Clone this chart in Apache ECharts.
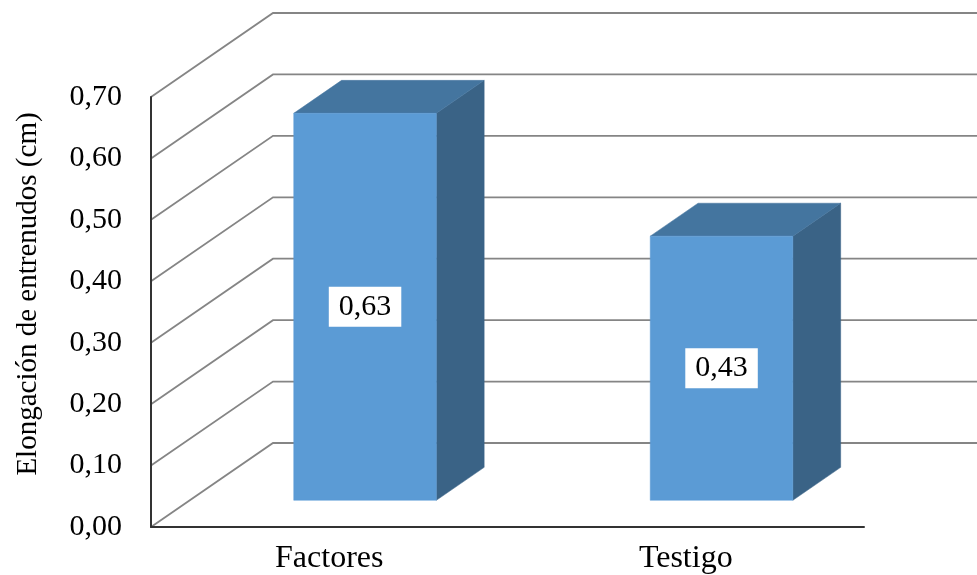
<!DOCTYPE html>
<html>
<head>
<meta charset="utf-8">
<script src="https://cdn.jsdelivr.net/npm/echarts@6/dist/echarts.min.js"></script>
<style>
  html, body { margin: 0; padding: 0; background: #fff; }
  #chart { width: 977px; height: 575px; }
</style>
</head>
<body>
<div id="chart"></div>
<script>
// Elongation of internodes per treatment
const categories = ['Factores', 'Testigo'];
const elongacion = [0.63, 0.43];
const yTicks = [0, 0.1, 0.2, 0.3, 0.4, 0.5, 0.6, 0.7];
const yTitle = 'Elongación de entrenudos (cm)';

// Oblique projection of the chart depth (back wall offset in px)
const DEPTH_X = 122;
const DEPTH_Y = -84;
const BAR_FRONT = 0.318;   // fraction of depth where bar front face sits
const BAR_BACK = 0.71;     // fraction of depth where bar back face sits
const BAR_WIDTH = 0.40;    // fraction of category band
const BAR_NUDGE = -3;      // small horizontal adjustment of the columns

const FONT = '"Liberation Serif", "Times New Roman", serif';
const fmt = v => v.toFixed(2).replace('.', ',');

const chart = echarts.init(document.getElementById('chart'), null, { renderer: 'canvas' });

// Back wall: diagonal from the front axis tick to the wall, then horizontal to the right edge
function renderWall(params, api) {
  const v = api.value(0);
  const cs = params.coordSys;
  const y0 = api.coord([0, v])[1];
  const x0 = cs.x;
  const pts = [
    [x0, y0],
    [x0 + DEPTH_X, y0 + DEPTH_Y],
    [api.getWidth() + 5, y0 + DEPTH_Y]
  ];
  return {
    type: 'polyline',
    shape: { points: pts },
    style: { stroke: '#858585', lineWidth: 1.8, fill: null },
    silent: true
  };
}

// 3D column: front, top and side faces
function renderBox(params, api) {
  const idx = api.value(0);
  const val = api.value(1);
  const top = api.coord([idx, val]);
  const base = api.coord([idx, 0]);
  const band = api.size([1, 0])[0];
  const w = band * BAR_WIDTH;
  const fx = BAR_FRONT * DEPTH_X + BAR_NUDGE, fy = BAR_FRONT * DEPTH_Y;
  const bx = BAR_BACK * DEPTH_X + BAR_NUDGE, by = BAR_BACK * DEPTH_Y;
  const l = top[0] - w / 2, r = top[0] + w / 2;
  const yt = top[1], yb = base[1];

  const front = [[l + fx, yt + fy], [r + fx, yt + fy], [r + fx, yb + fy], [l + fx, yb + fy]];
  const topFace = [[l + fx, yt + fy], [l + bx, yt + by], [r + bx, yt + by], [r + fx, yt + fy]];
  const side = [[r + fx, yt + fy], [r + bx, yt + by], [r + bx, yb + by], [r + fx, yb + fy]];

  const cx = (l + r) / 2 + fx;
  const cy = (yt + yb) / 2 + fy;

  return {
    type: 'group',
    children: [
      { type: 'polygon', shape: { points: side }, style: { fill: '#3a6386', stroke: '#3a6386', lineWidth: 0.5 } },
      { type: 'polygon', shape: { points: topFace }, style: { fill: '#44759f', stroke: '#44759f', lineWidth: 0.5 } },
      { type: 'polygon', shape: { points: front }, style: { fill: '#5b9bd5', stroke: '#5b9bd5', lineWidth: 0.5 } },
      {
        type: 'text',
        x: cx, y: cy,
        style: {
          text: fmt(val),
          font: '30px ' + FONT,
          fill: '#000',
          align: 'center',
          verticalAlign: 'middle',
          backgroundColor: '#fff',
          padding: [6, 10, 4, 10]
        }
      }
    ]
  };
}

chart.setOption({
  animation: false,
  backgroundColor: '#fff',
  grid: { left: 151, right: 113, top: 97, bottom: 48, containLabel: false },
  graphic: [
    {
      type: 'text',
      x: 28,
      y: 294,
      rotation: Math.PI / 2,
      style: {
        text: yTitle,
        font: '29px ' + FONT,
        fill: '#000',
        align: 'center',
        verticalAlign: 'middle'
      },
      silent: true
    }
  ],
  xAxis: {
    type: 'category',
    data: categories,
    axisLine: { show: true, lineStyle: { color: '#333', width: 2 } },
    axisTick: { show: false },
    axisLabel: { color: '#000', fontFamily: FONT, fontSize: 32, margin: 16 },
    splitLine: { show: false },
    z: 10
  },
  yAxis: {
    type: 'value',
    min: 0,
    max: 0.7,
    interval: 0.1,
    axisLine: { show: true, lineStyle: { color: '#333', width: 2 } },
    axisTick: { show: false },
    axisLabel: { color: '#000', fontFamily: FONT, fontSize: 30, margin: 29, formatter: fmt },
    splitLine: { show: false },
    z: 10
  },
  series: [
    {
      type: 'custom',
      renderItem: renderWall,
      data: yTicks.map(v => [v]),
      encode: { y: 0 },
      clip: false,
      silent: true,
      z: 1
    },
    {
      type: 'custom',
      renderItem: renderBox,
      data: elongacion.map((v, i) => [i, v]),
      encode: { x: 0, y: 1 },
      clip: false,
      z: 5
    }
  ]
});
</script>
</body>
</html>
